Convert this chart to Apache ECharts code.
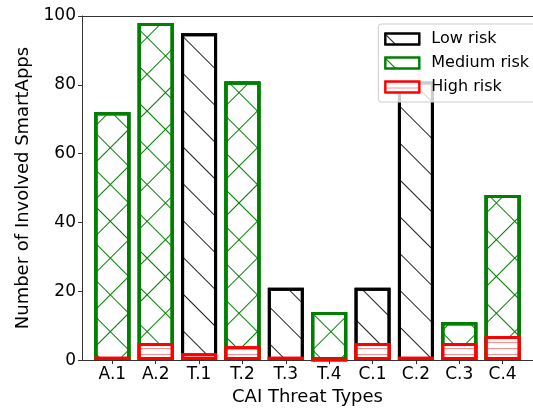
<!DOCTYPE html>
<html>
<head>
<meta charset="utf-8">
<script src="https://cdn.jsdelivr.net/npm/echarts@6/dist/echarts.min.js"></script>
<style>
html, body { margin: 0; padding: 0; background: #fff; }
#main { width: 533px; height: 411px; }
</style>
</head>
<body>
<div id="main"></div>
<script>
// threat types on x axis
var categories = ['A.1', 'A.2', 'T.1', 'T.2', 'T.3', 'T.4', 'C.1', 'C.2', 'C.3', 'C.4'];
// [category index, count]
var lowRisk = [[2, 95], [4, 21], [6, 21], [7, 81]];
var mediumRisk = [[0, 72], [1, 98], [3, 81], [5, 14], [8, 11], [9, 48]];
var highRisk = [[0, 1], [1, 5], [2, 2], [3, 4], [4, 1], [5, 0], [6, 5], [7, 1], [8, 5], [9, 7]];
var yTicks = [0, 20, 40, 60, 80, 100];

var FONT = 'DejaVu Sans';
var catIdx = categories.map(function (c, i) { return i; });

function hatch(color, rot, gap) {
	return {
		symbol: 'rect',
		symbolSize: 1,
		dashArrayX: [1, 0],
		dashArrayY: [1, gap],
		rotation: rot,
		color: color,
		backgroundColor: 'rgba(0,0,0,0)'
	};
}

var myChart = echarts.init(document.getElementById('main'), null, { renderer: 'canvas' });
var option = {
	backgroundColor: '#ffffff',
	animation: false,
	textStyle: { fontFamily: FONT },
	grid: { left: 82, top: 16, bottom: 49, right: -11 },
	legend: {
		right: -6,
		top: 24,
		orient: 'vertical',
		icon: 'rect',
		data: ['Low risk', 'Medium risk', 'High risk'],
		itemWidth: 34,
		itemHeight: 11,
		itemGap: 8,
		padding: [7, 10, 7, 6],
		backgroundColor: 'rgba(255,255,255,0.8)',
		borderColor: '#cccccc',
		borderWidth: 1,
		borderRadius: 3,
		textStyle: { fontFamily: FONT, fontSize: 16, color: '#000', padding: [0, 0, 0, 7] }
	},
	xAxis: [{
		type: 'value',
		min: -0.7,
		max: 9.7,
		name: 'CAI Threat Types',
		nameLocation: 'middle',
		nameGap: 26,
		nameTextStyle: { fontFamily: FONT, fontSize: 18, color: '#000' },
		splitLine: { show: false },
		axisLine: { show: true, onZero: false, lineStyle: { color: '#333', width: 1 } },
		axisTick: { show: true, length: 4, customValues: catIdx, lineStyle: { color: '#333' } },
		axisLabel: {
			customValues: catIdx,
			margin: 6,
			fontSize: 17,
			color: '#000',
			formatter: function (v) { return categories[Math.round(v)]; }
		}
	}, {
		type: 'value',
		position: 'top',
		min: -0.7,
		max: 9.7,
		splitLine: { show: false },
		axisLine: { show: true, onZero: false, lineStyle: { color: '#333', width: 1 } },
		axisTick: { show: false },
		axisLabel: { show: false }
	}],
	yAxis: {
		type: 'value',
		min: 0,
		max: 100,
		interval: 20,
		name: 'Number of Involved SmartApps',
		nameLocation: 'middle',
		nameGap: 48,
		nameTextStyle: { fontFamily: FONT, fontSize: 18, color: '#000' },
		splitLine: { show: false },
		axisLine: { show: true, onZero: false, lineStyle: { color: '#333', width: 1 } },
		axisTick: { show: true, length: 4, lineStyle: { color: '#333' } },
		axisLabel: {
			margin: 6, fontSize: 17, color: '#000',
			customValues: yTicks
		}
	},
	series: [{
		name: 'Low risk',
		type: 'bar',
		barWidth: 36,
		barGap: '-100%',
		data: lowRisk,
		itemStyle: {
			color: '#ffffff',
			borderColor: '#000000',
			borderWidth: 3,
			decal: hatch('#222222', Math.PI / 4, 25)
		}
	}, {
		name: 'Medium risk',
		type: 'bar',
		barWidth: 36,
		barGap: '-100%',
		data: mediumRisk,
		itemStyle: {
			color: '#ffffff',
			borderColor: '#008000',
			borderWidth: 3,
			decal: hatch('#008000', Math.PI / 4, 25)
		}
	}, {
		name: 'Medium risk',
		type: 'bar',
		barWidth: 36,
		barGap: '-100%',
		data: mediumRisk,
		itemStyle: {
			color: 'rgba(0,0,0,0)',
			borderColor: '#008000',
			borderWidth: 3,
			decal: hatch('#008000', -Math.PI / 4, 25)
		}
	}, {
		name: 'High risk',
		type: 'bar',
		barWidth: 36,
		barGap: '-100%',
		data: highRisk,
		itemStyle: {
			color: '#ffffff',
			borderColor: '#ff0000',
			borderWidth: 3,
			decal: hatch('rgba(255,0,0,0.45)', 0, 5)
		}
	}]
};
myChart.setOption(option, true);
</script>
</body>
</html>
